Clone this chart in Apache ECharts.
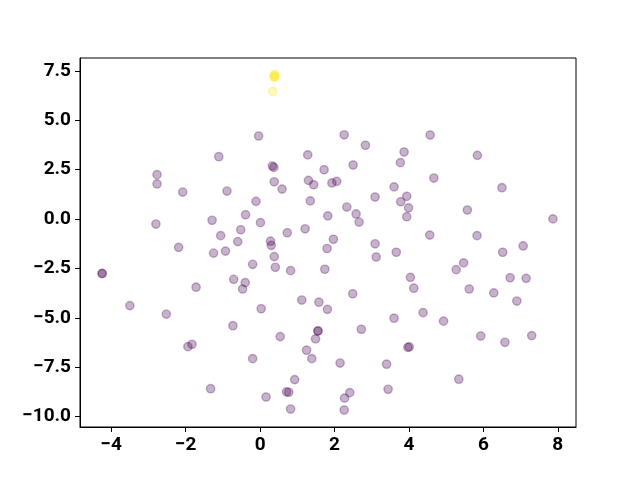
<!DOCTYPE html>
<html>
<head>
<meta charset="utf-8">
<script src="https://cdn.jsdelivr.net/npm/echarts@6/dist/echarts.min.js"></script>
<style>html,body{margin:0;padding:0;background:#fff}#c{width:640px;height:480px}</style>
</head>
<body>
<div id="c"></div>
<script>
// point coordinates
const xValues = [
  0.39, 0.38, 0.38, 0.39, 0.34,
  -1.11, -2.77, -2.77, -2.08, -0.89, -0.39, -2.80, -1.29, -0.52, -1.06, -0.60, -2.19, -1.25, -0.93,
  -4.24, -4.25, -0.71, -0.40, -0.47, -1.72, -3.50, -2.52, -0.73, -1.83, -1.94, -1.33,
  -0.04, 2.26, 2.83, 3.87, 3.77, 1.28, 0.33, 0.37, 1.72, 2.50, 0.38, 0.59, 1.30, 1.44, 1.93, 2.06,
  3.60, 3.94, 3.78, 3.99, 3.94, 3.09, -0.11, 1.35, 2.33, 2.58, 2.66, 1.82, 0.01, 0.73, 1.21, 1.97,
  3.09, 1.80, 0.28, 0.30, 3.66, 3.12, -0.20, 0.38, 0.41, 0.82, 1.74, 4.04, 2.49, 1.12, 1.58, 1.81,
  0.03, 3.60, 1.55, 1.56, 1.49, 2.72, 0.54, 3.97, 4.01, 1.25, 1.39, -0.20, 2.15, 3.40, 0.93, 0.71,
  0.77, 0.16, 2.41, 2.27, 3.44, 0.82, 2.26, 4.57, 5.84, 4.67, 6.50, 5.57, 7.87, 4.56, 5.83, 7.07,
  6.52, 5.47, 5.27, 4.13, 5.62, 6.72, 7.15, 6.28, 6.90, 4.38, 4.93, 5.93, 6.58, 7.30, 5.34
];
const yValues = [
  7.33, 7.25, 7.18, 7.22, 6.47,
  3.16, 2.25, 1.78, 1.37, 1.42, 0.22, -0.25, -0.06, -0.54, -0.84, -1.14, -1.43, -1.72, -1.62,
  -2.76, -2.75, -3.05, -3.22, -3.54, -3.45, -4.38, -4.81, -5.40, -6.34, -6.46, -8.59,
  4.21, 4.27, 3.74, 3.40, 2.86, 3.25, 2.69, 2.62, 2.50, 2.74, 1.89, 1.52, 1.96, 1.74, 1.83, 1.91,
  1.63, 1.15, 0.88, 0.57, 0.12, 1.12, 0.90, 0.92, 0.61, 0.26, -0.15, 0.16, -0.18, -0.69, -0.49, -1.02,
  -1.25, -1.49, -1.12, -1.33, -1.68, -1.92, -2.29, -1.90, -2.44, -2.61, -2.54, -2.95, -3.78, -4.10, -4.21, -4.57,
  -4.54, -5.02, -5.67, -5.66, -6.07, -5.58, -5.95, -6.50, -6.47, -6.64, -7.07, -7.07, -7.29, -7.35, -8.13, -8.75,
  -8.77, -9.01, -8.79, -9.07, -8.62, -9.62, -9.67, 4.26, 3.23, 2.08, 1.59, 0.46, 0.01, -0.81, -0.84, -1.36,
  -1.68, -2.22, -2.56, -3.50, -3.54, -2.97, -3.00, -3.74, -4.15, -4.74, -5.17, -5.92, -6.24, -5.90, -8.11
];
const clusterIds = xValues.map((_, i) => (i < 5 ? 1 : 0));
const xTicks = [-4, -2, 0, 2, 4, 6, 8];
const yTicks = [-10, -7.5, -5, -2.5, 0, 2.5, 5, 7.5];

const clusterColors = ['rgba(68,1,84,0.3)', 'rgba(253,231,37,0.3)'];
const minus = s => s.replace('-', '\u2212');

const series = [0, 1].map(c => ({
  type: 'scatter',
  symbolSize: 8.3,
  itemStyle: { color: clusterColors[c], borderColor: clusterColors[c], borderWidth: 1.4, opacity: 1 },
  emphasis: { disabled: true },
  data: xValues.map((x, i) => [x, yValues[i], clusterIds[i]]).filter(d => d[2] === c)
}));

const labelStyle = { color: '#000', fontFamily: 'Roboto', fontWeight: 'bold', fontSize: 19 };

const chart = echarts.init(document.getElementById('c'), null, { renderer: 'canvas' });
chart.setOption({
  animation: false,
  backgroundColor: '#fff',
  grid: { left: 80, right: 64, top: 58, bottom: 53, show: true, borderColor: '#000', borderWidth: 1, backgroundColor: 'transparent' },
  xAxis: {
    type: 'value', min: -4.84, max: 8.49,
    axisLine: { show: true, onZero: false, lineStyle: { color: '#000', width: 1 } },
    axisTick: { show: true, customValues: xTicks, length: 5, lineStyle: { color: '#000' } },
    axisLabel: Object.assign({ customValues: xTicks, margin: 9, formatter: v => minus(String(v)) }, labelStyle),
    splitLine: { show: false }
  },
  yAxis: {
    type: 'value', min: -10.53, max: 8.16,
    axisLine: { show: true, onZero: false, lineStyle: { color: '#000', width: 1 } },
    axisTick: { show: true, customValues: yTicks, length: 5, lineStyle: { color: '#000' } },
    axisLabel: Object.assign({ customValues: yTicks, margin: 9, formatter: v => minus(Number(v).toFixed(1)) }, labelStyle),
    splitLine: { show: false }
  },
  series: series
});
</script>
</body>
</html>
